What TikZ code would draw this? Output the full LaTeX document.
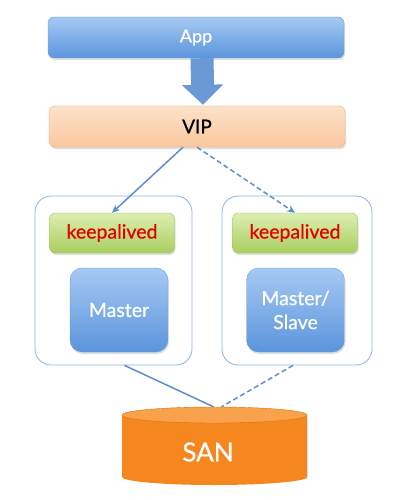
\documentclass[tikz,border=0pt]{standalone}
\usepackage{fontspec}
\setmainfont{Lato}[FakeBold=0.7]
\usepackage{tikz}
\usetikzlibrary{arrows.meta,shapes.geometric,shadows}

\definecolor{bluetop}{HTML}{A6C9F3}
\definecolor{bluebot}{HTML}{5B95DC}
\definecolor{blueedge}{HTML}{6E9FD8}
\definecolor{peachtop}{HTML}{FDE2CA}
\definecolor{peachbot}{HTML}{FAC89E}
\definecolor{peachedge}{HTML}{F3B07A}
\definecolor{greentop}{HTML}{DDEEB2}
\definecolor{greenbot}{HTML}{A8CF5E}
\definecolor{greenedge}{HTML}{9DC25C}
\definecolor{frame}{HTML}{8DB3E2}
\definecolor{link}{HTML}{5B8ED0}
\definecolor{sanbody}{HTML}{F6871F}
\definecolor{santop}{HTML}{F9A24C}
\definecolor{keepred}{HTML}{E30000}

\begin{document}
\begin{tikzpicture}[x=1pt,y=-1pt,
                soft shadow/.style={drop shadow={opacity=0.25,shadow xshift=1pt,shadow yshift=-2pt}},
                blue box/.style={rounded corners=6pt,draw=blueedge,top color=bluetop,bottom color=bluebot,
                    text=white,soft shadow,font=\fontsize{18}{21}\selectfont},
                host/.style={rounded corners=16pt,draw=frame,fill=white,thick},
                keep box/.style={rounded corners=6pt,draw=greenedge,top color=greentop,bottom color=greenbot,
                    text=keepred,soft shadow,minimum width=125pt,minimum height=40pt,font=\fontsize{19.5}{22}\selectfont},
                db box/.style={blue box,rounded corners=12pt,minimum width=98pt,minimum height=84pt,
                    align=center,font=\fontsize{19.5}{24}\selectfont},
                link line/.style={draw=link,line width=1.5pt},
                dash line/.style={link line,dash pattern=on 5pt off 3pt}]

            \useasboundingbox (0,0) rectangle (408,500);

            \node[blue box, minimum width=296pt, minimum height=41pt] (app) at (196,37.5) {App};
            \node[rounded corners=6pt, draw=peachedge, top color=peachtop, bottom color=peachbot,
                  soft shadow, minimum width=296pt, minimum height=41pt,
                  font=\fontsize{19}{22}\selectfont] (vip) at (197,126.5) {VIP};

            \node[host, minimum width=157pt, minimum height=169pt] (hostL) at (113.5,280.5) {};
            \node[host, minimum width=150pt, minimum height=169pt] (hostR) at (297,280.5) {};

            \node[keep box] (keepL) at (112,233) {keepalived};
            \node[keep box] (keepR) at (295,233) {keepalived};
            \node[db box] (master) at (119,310) {Master};
            \node[db box] (slave) at (295.5,310) {Master/\\Slave};

            % SAN cylinder
            \fill[sanbody, soft shadow] (122,415) rectangle (307,477);
            \fill[sanbody] (214.5,477) ellipse [x radius=92.5, y radius=8];
            \node[ellipse, fill=santop, draw=sanbody!85!black, inner sep=0pt,
                  minimum width=185pt, minimum height=16pt] (santop) at (214.5,415) {};
            \node[text=white, font=\fontsize{26}{30}\selectfont] (san) at (208,452) {SAN};

            \draw[line width=23pt, link!90!white, -{Triangle[width=40pt,length=20pt]}]
                ([xshift=6pt]app.south) -- ([xshift=6pt,yshift=1pt]vip.north);

            \draw[link line, -{Stealth[length=8pt,width=7pt]}] ([xshift=-14pt]vip.south) -- ([xshift=0pt]keepL.north);
            \draw[dash line, -{Stealth[length=8pt,width=7pt]}] (vip.south) -- (keepR.north);

            \draw[link line] ([xshift=11pt]hostL.south) -- ([xshift=-1pt]santop.north);
            \draw[dash line] ([xshift=-4pt]hostR.south) -- ([xshift=7pt]santop.north);

        \end{tikzpicture}
\end{document}
